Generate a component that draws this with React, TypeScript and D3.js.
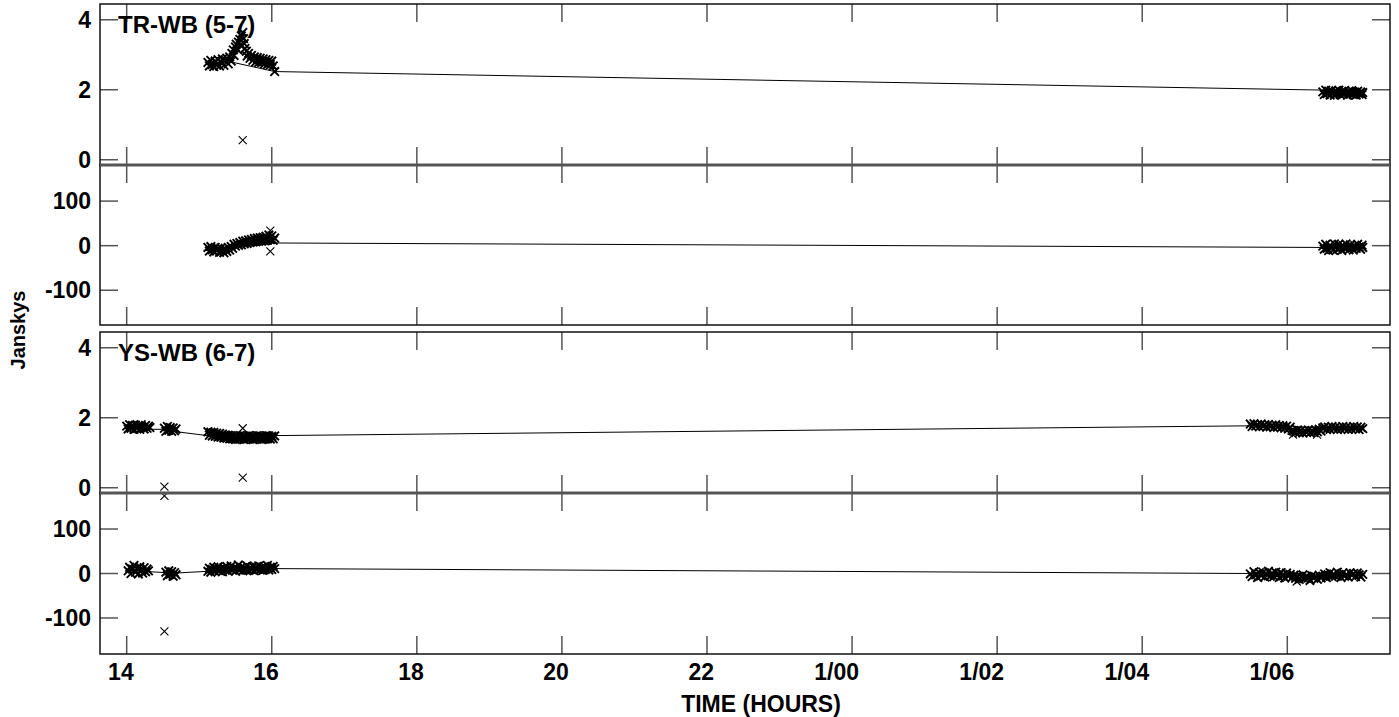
import React from 'react';
import * as d3 from 'd3';

type P = [number, number];

// ---------- data ----------
const xTickHours = [14, 16, 18, 20, 22, 24, 26, 28, 30];
const xTickLabels = ['14', '16', '18', '20', '22', '1/00', '1/02', '1/04', '1/06'];
const ampTicks = [0, 2, 4];
const phaseTicks = [-100, 0, 100];
const baselineLabels = ['TR-WB (5-7)', 'YS-WB (6-7)'];

// TR-WB amplitude (Jy)
const trAmpPoints: P[] = [
  [15.12, 2.78], [15.14, 2.68], [15.16, 2.84], [15.18, 2.72], [15.20, 2.66], [15.22, 2.82], [15.24, 2.70],
  [15.26, 2.86], [15.28, 2.68], [15.30, 2.80], [15.32, 2.88], [15.34, 2.70], [15.36, 2.84], [15.38, 2.90],
  [15.40, 2.74], [15.42, 2.94], [15.44, 2.82], [15.45, 3.04], [15.47, 3.14], [15.48, 2.98], [15.50, 3.22],
  [15.51, 3.30], [15.53, 3.14], [15.54, 3.36], [15.56, 3.44], [15.57, 3.28], [15.58, 3.54], [15.60, 3.64],
  [15.61, 3.46], [15.62, 3.32], [15.63, 3.18], [15.65, 3.10], [15.66, 2.96], [15.68, 3.04], [15.70, 2.90],
  [15.72, 2.98], [15.74, 2.84], [15.76, 2.94], [15.78, 2.80], [15.80, 2.92], [15.82, 2.78], [15.84, 2.90],
  [15.86, 2.78], [15.88, 2.88], [15.90, 2.74], [15.92, 2.86], [15.94, 2.72], [15.96, 2.84], [15.98, 2.72],
  [16.00, 2.82], [16.02, 2.68], [16.04, 2.52],
  [30.49, 1.94], [30.51, 1.86], [30.53, 1.99], [30.55, 1.89], [30.57, 1.96], [30.59, 1.85], [30.61, 1.98],
  [30.63, 1.91], [30.65, 1.84], [30.67, 1.97], [30.69, 1.89], [30.71, 1.99], [30.73, 1.86], [30.75, 1.94],
  [30.77, 1.87], [30.79, 1.98], [30.81, 1.91], [30.83, 1.84], [30.85, 1.96], [30.87, 1.88], [30.89, 1.97],
  [30.91, 1.86], [30.93, 1.93], [30.95, 1.85], [30.97, 1.96], [30.99, 1.88], [31.01, 1.94], [31.03, 1.86],
  [31.04, 1.92],
];
const trAmpOutliers: P[] = [[15.60, 0.56]];
const trAmpModel: P[] = [[15.12, 2.74], [15.47, 2.78], [16.04, 2.52], [30.49, 1.99], [31.04, 1.93]];

// TR-WB phase (degrees)
const trPhasePoints: P[] = [
  [15.12, -4], [15.14, -12], [15.16, -2], [15.18, -9], [15.20, -14], [15.22, -4], [15.24, -11], [15.26, -6],
  [15.28, -15], [15.30, -5], [15.32, -12], [15.34, -16], [15.36, -7], [15.38, -13], [15.40, -4], [15.42, -10],
  [15.44, -2], [15.46, -6], [15.48, 3], [15.50, -1], [15.52, 5], [15.54, 1], [15.56, 7], [15.58, 2],
  [15.60, 10], [15.62, 4], [15.64, 11], [15.66, 5], [15.68, 13], [15.70, 7], [15.72, 14], [15.74, 8],
  [15.76, 16], [15.78, 9], [15.80, 17], [15.82, 10], [15.84, 18], [15.86, 10], [15.88, 19], [15.90, 11],
  [15.92, 21], [15.94, 12], [15.96, 24], [15.98, 13], [16.00, 22], [16.02, 12], [16.04, 17],
  [30.49, -1], [30.51, -8], [30.53, 3], [30.55, -6], [30.57, -11], [30.59, 1], [30.61, -4], [30.63, -10],
  [30.65, 4], [30.67, -3], [30.69, -8], [30.71, 3], [30.73, -5], [30.75, -11], [30.77, 0], [30.79, -6],
  [30.81, 4], [30.83, -3], [30.85, -9], [30.87, 2], [30.89, -5], [30.91, -10], [30.93, 0], [30.95, -6],
  [30.97, 3], [30.99, -3], [31.01, -8], [31.03, 1], [31.04, -4],
];
const trPhaseOutliers: P[] = [[15.98, 34], [15.98, -13]];
const trPhaseModel: P[] = [[15.12, -7], [15.45, -6], [16.04, 6], [30.49, -4], [31.04, -3]];

// YS-WB amplitude (Jy)
const ysAmpPoints: P[] = [
  [14.00, 1.76], [14.02, 1.68], [14.04, 1.80], [14.06, 1.70], [14.08, 1.78], [14.10, 1.67], [14.12, 1.79],
  [14.14, 1.70], [14.16, 1.77], [14.18, 1.67], [14.20, 1.80], [14.22, 1.71], [14.24, 1.68], [14.26, 1.78],
  [14.28, 1.70], [14.30, 1.76], [14.32, 1.72],
  [14.52, 1.70], [14.54, 1.61], [14.56, 1.75], [14.58, 1.64], [14.60, 1.72], [14.62, 1.61], [14.64, 1.71],
  [14.66, 1.63], [14.68, 1.68],
  [15.12, 1.60], [15.14, 1.50], [15.16, 1.59], [15.18, 1.48], [15.20, 1.58], [15.22, 1.47], [15.24, 1.56],
  [15.26, 1.45], [15.28, 1.55], [15.30, 1.44], [15.32, 1.53], [15.34, 1.42], [15.36, 1.51], [15.38, 1.41],
  [15.40, 1.50], [15.42, 1.40], [15.44, 1.49], [15.46, 1.39], [15.48, 1.48], [15.50, 1.38], [15.52, 1.48],
  [15.54, 1.39], [15.56, 1.49], [15.58, 1.40], [15.60, 1.48], [15.62, 1.38], [15.64, 1.47], [15.66, 1.39],
  [15.68, 1.49], [15.70, 1.40], [15.72, 1.48], [15.74, 1.38], [15.76, 1.47], [15.78, 1.39], [15.80, 1.49],
  [15.82, 1.40], [15.84, 1.48], [15.86, 1.38], [15.88, 1.47], [15.90, 1.39], [15.92, 1.49], [15.94, 1.40],
  [15.96, 1.48], [15.98, 1.39], [16.00, 1.47], [16.02, 1.40], [16.04, 1.48],
  [29.49, 1.82], [29.515, 1.75], [29.54, 1.83], [29.565, 1.76], [29.59, 1.81], [29.615, 1.74], [29.64, 1.82],
  [29.665, 1.75], [29.69, 1.80], [29.715, 1.73], [29.74, 1.81], [29.765, 1.74], [29.79, 1.79], [29.815, 1.72],
  [29.84, 1.80], [29.865, 1.73], [29.89, 1.78], [29.915, 1.71], [29.94, 1.77], [29.965, 1.70], [29.99, 1.76],
  [30.015, 1.68], [30.04, 1.73], [30.065, 1.64], [30.09, 1.62], [30.115, 1.58], [30.14, 1.65],
  [30.165, 1.57], [30.19, 1.64], [30.215, 1.56], [30.24, 1.63], [30.265, 1.58], [30.29, 1.65], [30.315, 1.57],
  [30.34, 1.64], [30.365, 1.58], [30.39, 1.66], [30.415, 1.60], [30.44, 1.67], [30.465, 1.62],
  [30.49, 1.71], [30.515, 1.74], [30.54, 1.66], [30.565, 1.73], [30.59, 1.67], [30.615, 1.75], [30.64, 1.68],
  [30.665, 1.74], [30.69, 1.66], [30.715, 1.73], [30.74, 1.67], [30.765, 1.75], [30.79, 1.68], [30.815, 1.74],
  [30.84, 1.66], [30.865, 1.73], [30.89, 1.67], [30.915, 1.75], [30.94, 1.68], [30.965, 1.74], [30.99, 1.66],
  [31.015, 1.73], [31.04, 1.69],
];
const ysAmpOutliers: P[] = [[14.52, 0.03], [14.52, -0.23], [15.60, 0.29], [15.60, 1.70], [30.08, 1.52], [30.41, 1.52]];
const ysAmpModel: P[] = [
  [14.0, 1.70], [14.32, 1.67], [14.52, 1.67], [14.69, 1.60], [15.15, 1.48], [16.04, 1.49],
  [29.49, 1.77], [31.04, 1.70],
];

// YS-WB phase (degrees)
const ysPhasePoints: P[] = [
  [14.02, 6], [14.04, 14], [14.06, 0], [14.08, 10], [14.10, 18], [14.12, 3], [14.14, 12], [14.16, -1],
  [14.18, 15], [14.20, 7], [14.22, 1], [14.24, 13], [14.26, 4], [14.28, 10], [14.30, 6],
  [14.54, 3], [14.56, -5], [14.58, 6], [14.60, -2], [14.62, 4], [14.64, -6], [14.66, 2], [14.68, -3],
  [15.12, 5], [15.14, 12], [15.16, 3], [15.18, 9], [15.20, 14], [15.22, 4], [15.24, 10], [15.26, 15],
  [15.28, 6], [15.30, 12], [15.32, 4], [15.34, 13], [15.36, 7], [15.38, 16], [15.40, 5], [15.42, 11],
  [15.44, 17], [15.46, 7], [15.48, 13], [15.50, 5], [15.52, 12], [15.54, 19], [15.56, 8], [15.58, 14],
  [15.60, 6], [15.62, 13], [15.64, 8], [15.66, 17], [15.68, 7], [15.70, 13], [15.72, 9], [15.74, 16],
  [15.76, 6], [15.78, 14], [15.80, 9], [15.82, 17], [15.84, 8], [15.86, 14], [15.88, 7], [15.90, 16],
  [15.92, 10], [15.94, 18], [15.96, 8], [15.98, 14], [16.00, 9], [16.02, 16], [16.04, 11],
  [29.49, -1], [29.515, -7], [29.54, 4], [29.565, -3], [29.59, -9], [29.615, 2], [29.64, -5], [29.665, 3],
  [29.69, -8], [29.715, -2], [29.74, 5], [29.765, -6], [29.79, 1], [29.815, -7], [29.84, 3], [29.865, -3],
  [29.89, -9], [29.915, 2], [29.94, -5], [29.965, -10], [29.99, 1], [30.015, -6], [30.04, -2], [30.065, -9],
  [30.09, -4], [30.115, -11], [30.14, -6], [30.165, -13], [30.19, -7], [30.215, -3], [30.24, -12],
  [30.265, -6], [30.29, -10], [30.315, -15], [30.34, -5], [30.365, -11], [30.39, -7], [30.415, -13],
  [30.44, -4], [30.465, -10], [30.49, -6], [30.515, -1], [30.54, -9], [30.565, -3], [30.59, 2], [30.615, -7],
  [30.64, -1], [30.665, -6], [30.69, 3], [30.715, -4], [30.74, -9], [30.765, 1], [30.79, -6], [30.815, -2],
  [30.84, -8], [30.865, 2], [30.89, -4], [30.915, 0], [30.94, -7], [30.965, 1], [30.99, -3], [31.015, -8],
  [31.04, -2],
];
const ysPhaseOutliers: P[] = [[14.52, -130], [30.13, -18], [30.31, -17]];
const ysPhaseModel: P[] = [
  [14.02, 6], [14.32, 4], [14.54, 2], [14.68, 1], [15.12, 5], [16.04, 11], [29.49, 0], [31.04, -3],
];

// ---------- layout ----------
const W = 1399;
const H = 717;
const left = 100;
const right = 1390;
const FONT = '"Liberation Sans", Arial, Helvetica, sans-serif';

const x = d3.scaleLinear().domain([13.632, 31.416]).range([left, right]);

interface Panel {
  top: number;
  bottom: number;
  domain: [number, number];
  ticks: number[];
  points: P[];
  outliers: P[];
  model: P[];
  label?: string;
}

const panels: Panel[] = [
  { top: 4, bottom: 165, domain: [-0.15, 4.45], ticks: ampTicks, points: trAmpPoints, outliers: trAmpOutliers, model: trAmpModel, label: baselineLabels[0] },
  { top: 165, bottom: 325, domain: [-178, 181], ticks: phaseTicks, points: trPhasePoints, outliers: trPhaseOutliers, model: trPhaseModel },
  { top: 332, bottom: 493, domain: [-0.15, 4.45], ticks: ampTicks, points: ysAmpPoints, outliers: ysAmpOutliers, model: ysAmpModel, label: baselineLabels[1] },
  { top: 493, bottom: 654, domain: [-181, 181], ticks: phaseTicks, points: ysPhasePoints, outliers: ysPhaseOutliers, model: ysPhaseModel },
];

const TICK = 18;

function crosses(pts: P[], y: d3.ScaleLinear<number, number>, m: number) {
  return pts
    .map((d) => {
      const cx = x(d[0]);
      const cy = y(d[1]);
      return `M${cx - m},${cy - m}L${cx + m},${cy + m}M${cx - m},${cy + m}L${cx + m},${cy - m}`;
    })
    .join('');
}

function PanelView({ p }: { p: Panel }) {
  const y = d3.scaleLinear().domain(p.domain).range([p.bottom, p.top]);
  const line = d3.line<P>().x((d) => x(d[0])).y((d) => y(d[1]));
  return (
    <g>
      {xTickHours.map((h) => (
        <g key={'xt' + h}>
          <line x1={x(h)} x2={x(h)} y1={p.top} y2={p.top + TICK} stroke="#555" strokeWidth={1.5} />
          <line x1={x(h)} x2={x(h)} y1={p.bottom} y2={p.bottom - TICK} stroke="#555" strokeWidth={1.5} />
        </g>
      ))}
      {p.ticks.map((t) => (
        <g key={'yt' + t}>
          <line x1={left} x2={left + TICK} y1={y(t)} y2={y(t)} stroke="#555" strokeWidth={1.5} />
          <line x1={right} x2={right - TICK} y1={y(t)} y2={y(t)} stroke="#555" strokeWidth={1.5} />
          <text x={91} y={y(t) + 8} textAnchor="end" fontFamily={FONT} fontWeight="bold" fontSize={23} fill="#000">
            {t}
          </text>
        </g>
      ))}
      <rect x={left} y={p.top} width={right - left} height={p.bottom - p.top} fill="none" stroke="#111" strokeWidth={1.5} />
      <path d={line(p.model) || ''} fill="none" stroke="#000" strokeWidth={1} />
      <path d={crosses(p.points, y, 4.3)} fill="none" stroke="#000" strokeWidth={1.9} />
      <path d={crosses(p.outliers, y, 4)} fill="none" stroke="#000" strokeWidth={1.1} />
      {p.label && (
        <text x={118} y={p.top + 29} fontFamily={FONT} fontWeight="bold" fontSize={24} fill="#000">
          {p.label}
        </text>
      )}
    </g>
  );
}

export default function App() {
  const bottomY = panels[3].bottom;
  return (
    <svg width={W} height={H} viewBox={`0 0 ${W} ${H}`} style={{ position: 'absolute', left: 0, top: 0, background: '#fff' }}>
      <rect x={0} y={0} width={W} height={H} fill="#fff" />
      {panels.map((p, i) => (
        <PanelView key={i} p={p} />
      ))}
      <line x1={left} x2={right} y1={panels[0].bottom} y2={panels[0].bottom} stroke="#555" strokeWidth={3} />
      <line x1={left} x2={right} y1={panels[2].bottom} y2={panels[2].bottom} stroke="#555" strokeWidth={3} />
      {xTickHours.map((h, i) => (
        <text key={'xl' + h} x={x(h) + 7} y={bottomY + 26} textAnchor="end" fontFamily={FONT} fontWeight="bold" fontSize={23} fill="#000">
          {xTickLabels[i]}
        </text>
      ))}
      <text x={761} y={712} textAnchor="middle" fontFamily={FONT} fontWeight="bold" fontSize={23} fill="#000">
        TIME (HOURS)
      </text>
      <text transform="translate(25,330) rotate(-90)" textAnchor="middle" fontFamily={FONT} fontWeight="bold" fontSize={20} fill="#000">
        Janskys
      </text>
    </svg>
  );
}
